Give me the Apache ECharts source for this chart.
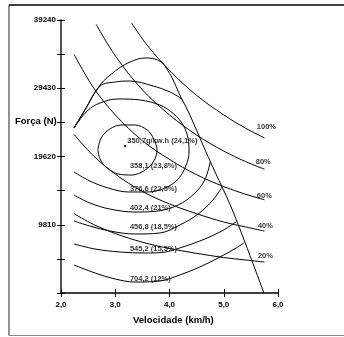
<!DOCTYPE html>
<html><head><meta charset="utf-8">
<script src="https://cdn.jsdelivr.net/npm/echarts@6/dist/echarts.min.js"></script>
<style>html,body{margin:0;padding:0;background:#fff}#c{width:344px;height:337px}</style>
</head><body><div id="c"></div>
<script>
// ---- data (velocity km/h, force N) ----
const xTickLabels = ['2,0','3,0','4,0','5,0','6,0'];
const yTickLabels = ['9810','19620','29430','39240'];

const power100 = [[3.30,38800],[3.6,35500],[4.0,32000],[4.5,28400],[5.0,25600],[5.4,23700],[5.75,22300]];
const power80  = [[2.65,38600],[3.0,34100],[3.5,29200],[4.0,25600],[4.5,22700],[5.0,20400],[5.4,18900],[5.75,17800]];
const power60  = [[2.24,34300],[2.6,29500],[3.0,25600],[3.5,21900],[4.0,19200],[4.5,17000],[5.0,15300],[5.4,14200],[5.75,13400]];
const power40  = [[2.24,22800],[2.6,19700],[3.0,17100],[3.5,14600],[4.0,12800],[4.5,11400],[5.0,10200],[5.4,9500],[5.75,8900]];
const power20  = [[2.24,11400],[2.6,9850],[3.0,8550],[3.5,7300],[4.0,6400],[4.5,5700],[5.0,5100],[5.4,4750],[5.75,4450]];
const powerLabels = ['100%','80%','60%','40%','20%'];
const powerLabelAnchors = [[5.61,23860],[5.59,18830],[5.61,13940],[5.63,9630],[5.63,5320]];

const maxSpeedLine = [[3.88,33060],[4.05,30900],[4.19,28460],[4.36,25870],[4.60,21560],[4.84,17390],[5.12,12650],[5.41,6900],[5.74,0]];

const eff358 = [[2.68,20560],[2.74,22280],[2.90,23570],[3.12,24150],[3.36,24150],[3.59,23430],[3.71,22140],[3.77,20560],[3.71,18970],[3.55,17680],[3.31,16960],[3.05,17110],[2.83,18110],[2.72,19260],[2.68,20560]];
const eff376 = [[2.24,17390],[2.53,16100],[2.87,15090],[3.24,14520],[3.60,14520],[3.92,15090],[4.16,16390],[4.30,18250],[4.36,20270],[4.34,22280],[4.25,24150],[4.08,25730],[3.82,27020],[3.46,27740],[3.05,27890],[2.72,27310],[2.48,26160],[2.24,23720]];
const eff402Bottom = [[2.24,14090],[2.53,12940],[2.90,12070],[3.36,11640],[3.79,11790],[4.16,12650],[4.45,14230],[4.65,16240],[4.75,18830]];
const eff402Top = [[2.24,23720],[2.44,26300],[2.72,29750],[3.00,30330],[3.27,30470],[3.70,29750],[4.01,28890],[4.23,27890]];
const eff456Bottom = [[2.24,10350],[2.53,9630],[2.90,8910],[3.36,8480],[3.82,8620],[4.19,9770],[4.53,11360],[4.80,13370],[4.97,15240]];
const eff456Top = [[2.24,23720],[2.44,26300],[2.72,29900],[3.00,31910],[3.27,33200],[3.55,33780],[3.73,33640],[3.88,33060]];
const eff545 = [[2.24,7040],[2.63,6320],[3.09,5890],[3.55,5750],[3.92,5890],[4.19,6470],[4.56,7470],[4.93,8770],[5.23,10210]];
const eff704 = [[2.24,4020],[2.63,2870],[3.00,2010],[3.36,1580],[3.82,1720],[4.19,2590],[4.56,3740],[4.93,5170],[5.23,6470],[5.37,7190]];

const contourLabels = ['358,1 (23,8%)','376,6 (22,5%)','402,4 (21%)','456,8 (18,5%)','545,2 (15,5%)','704,2 (12%)'];
const contourLabelAnchors = [[3.27,18250],[3.27,14950],[3.27,12220],[3.27,9490],[3.27,6320],[3.27,2010]];
const optimumPoint = [3.18,21130];
const optimumLabel = '350,7g/kw.h (24,1%)';

// ---- chart ----
const FONT = '"Liberation Sans", Arial, sans-serif';
const chart = echarts.init(document.getElementById('c'), null, {renderer:'canvas'});
const curveSets = [power100,power80,power60,power40,power20,maxSpeedLine,eff358,eff376,eff402Bottom,eff402Top,eff456Bottom,eff456Top,eff545,eff704];
const series = curveSets.map(d => ({
  type:'line', data:d, xAxisIndex:0, yAxisIndex:0, smooth:0.35, showSymbol:false, silent:true,
  lineStyle:{color:'#000', width:1}, animation:false
}));
const lblStyle = {show:true, position:'right', distance:0, color:'#000', fontFamily:FONT, fontWeight:'bold', fontSize:7.5};
series.push({type:'scatter', symbolSize:0, animation:false, silent:true,
  data: powerLabelAnchors.map((p,i)=>({value:p, label:Object.assign({}, lblStyle, {formatter:powerLabels[i]})}))});
series.push({type:'scatter', symbolSize:0, animation:false, silent:true,
  data: contourLabelAnchors.map((p,i)=>({value:p, label:Object.assign({}, lblStyle, {formatter:contourLabels[i]})}))});
series.push({type:'scatter', symbolSize:2.5, itemStyle:{color:'#000'}, animation:false, silent:true,
  data:[{value:optimumPoint, label:Object.assign({}, lblStyle, {formatter:optimumLabel, distance:1, offset:[0,-5]})}]});

const tickLabelStyle = {color:'#000', fontFamily:FONT, fontWeight:'bold', fontSize:8};
chart.setOption({
  animation:false,
  grid:{left:61, right:66, top:20, bottom:44},
  xAxis:[{
    type:'value', min:2, max:6, interval:1,
    axisLine:{lineStyle:{color:'#000', width:1.5}},
    axisTick:{show:true, length:4, lineStyle:{color:'#000'}},
    axisLabel:Object.assign({margin:8, formatter:(v)=>xTickLabels[Math.round(v-2)]}, tickLabelStyle),
    splitLine:{show:false}
  },{
    type:'value', min:2, max:6, interval:1, position:'bottom',
    axisLine:{show:false}, axisTick:{show:true, inside:true, length:4, lineStyle:{color:'#000'}},
    axisLabel:{show:false}, splitLine:{show:false}
  }],
  yAxis:[{
    type:'value', min:0, max:39240, interval:4905,
    axisLine:{lineStyle:{color:'#555', width:2}},
    axisTick:{show:true, length:4, lineStyle:{color:'#000'}},
    axisLabel:Object.assign({margin:5, formatter:(v)=>yTickLabels.includes(String(v))?String(v):''}, tickLabelStyle),
    splitLine:{show:false}
  },{
    type:'value', min:0, max:39240, interval:4905, position:'left',
    axisLine:{show:false}, axisTick:{show:true, inside:true, length:4, lineStyle:{color:'#000'}},
    axisLabel:{show:false}, splitLine:{show:false}
  }],
  graphic:[
    {type:'line', shape:{x1:9,y1:5,x2:344,y2:5}, style:{stroke:'#000', lineWidth:1.5}},
    {type:'line', shape:{x1:9,y1:5,x2:9,y2:335.5}, style:{stroke:'#222', lineWidth:1}},
    {type:'line', shape:{x1:9,y1:335.5,x2:344,y2:335.5}, style:{stroke:'#888', lineWidth:1}},
    {type:'text', left:15, top:116, style:{text:'Força (N)', fill:'#000', font:'bold 9.5px "Liberation Sans", Arial, sans-serif'}},
    {type:'text', left:133, top:315, style:{text:'Velocidade (km/h)', fill:'#000', font:'bold 9.5px "Liberation Sans", Arial, sans-serif'}}
  ],
  series:series
});
</script></body></html>
